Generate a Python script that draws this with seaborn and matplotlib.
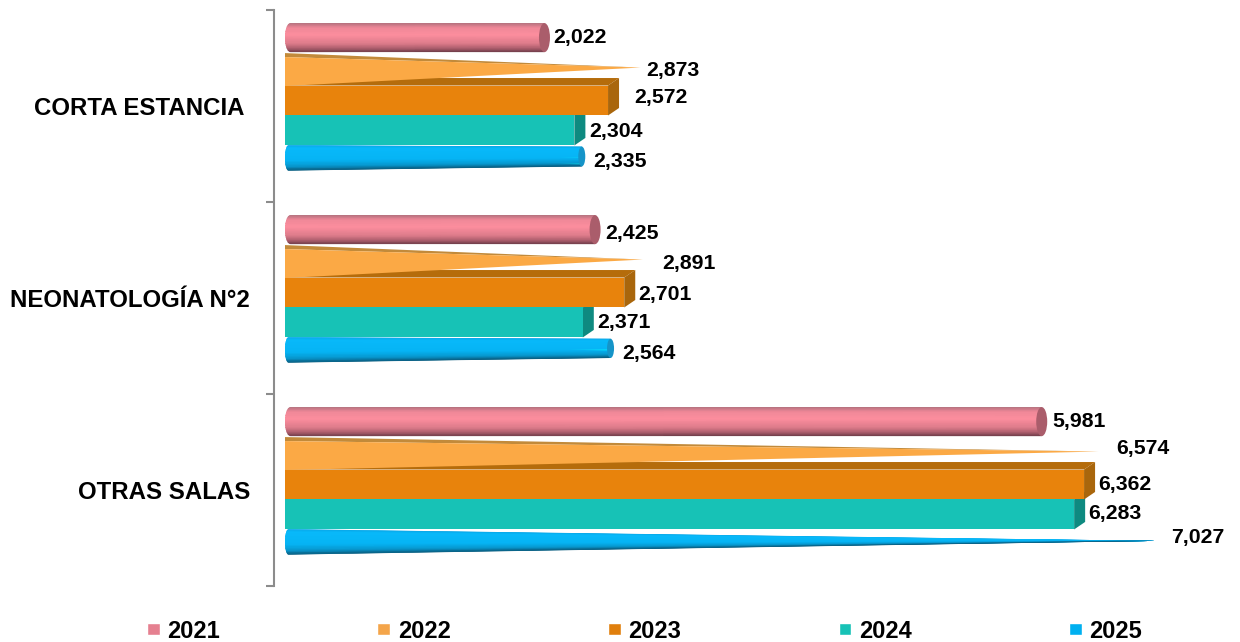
import numpy as np
import pandas as pd
import matplotlib
matplotlib.use("Agg")
import matplotlib.pyplot as plt
import seaborn as sns
from matplotlib.collections import QuadMesh
from matplotlib.colors import LinearSegmentedColormap
from matplotlib.patches import Ellipse, Polygon

salas = ["CORTA ESTANCIA ", "NEONATOLOGÍA N°2", "OTRAS SALAS"]
years = ["2021", "2022", "2023", "2024", "2025"]
v2021 = [2022, 2425, 5981]
v2022 = [2873, 2891, 6574]
v2023 = [2572, 2701, 6362]
v2024 = [2304, 2371, 6283]
v2025 = [2335, 2564, 7027]
colors = ["#e58090", "#f4a54a", "#e07f0d", "#17c2b6", "#00b0f0"]

# label nudges in pixels (right, down), per year then per sala
label_dx = [[14, 16, 16], [0, 14, 6], [26, 14, 14], [15, 14, 14], [15, 15, 4]]
label_dy = [[-2, 2, -2], [1, 2, -5], [-2, 3, 1], [2, 1, 0], [2, 2, -6]]
# the 3d shapes do not sit evenly in the slots, pixels down per year
bar_dy = [-2, 1.5, 1, 1, -1.5]

df = pd.DataFrame({
    "sala": salas * 5,
    "year": np.repeat(years, 3),
    "value": v2021 + v2022 + v2023 + v2024 + v2025,
})

sns.set_theme(style="white")
plt.rcParams["font.family"] = ["Liberation Sans", "DejaVu Sans"]
plt.rcParams["font.weight"] = "bold"
plt.rcParams["text.color"] = "black"

PX_PER_UNIT = 0.1256
PX_PER_CAT = 192.0
W, H = 1240, 642

fig = plt.figure(figsize=(W / 100, H / 100), dpi=100)
ax = fig.add_axes([285 / W, (H - 586) / H, 945 / W, 576 / H])
sns.barplot(data=df, y="sala", x="value", hue="year", order=salas, hue_order=years,
            palette=colors, saturation=1, width=0.78, dodge=True, ax=ax)


def px_x(n):
    return n / PX_PER_UNIT


def px_y(n):
    return n / PX_PER_CAT


shift = px_y(-6.5)
top_cmaps = {
    "2021": LinearSegmentedColormap.from_list("c21", [(0, "#b06f7c"), (0.16, "#ef8898"), (0.42, "#fd8e9e"),
                                                      (0.72, "#dc7b8a"), (0.9, "#a65a69"), (1, "#6e3d49")]),
    "2025": LinearSegmentedColormap.from_list("c25", [(0, "#0aa6e6"), (0.12, "#08b9fa"), (0.6, "#06b4f4"),
                                                      (0.85, "#0796cc"), (1, "#0a5a7c")]),
}


def cylinder(y, h, v, year, z, end_color, rx_px=5.5, taper_to=None):
    rx = px_x(rx_px)
    end_h = h
    x_end = v + rx
    split = 0.5
    if taper_to is not None:
        end_h = h * max(1 - v / taper_to, 0) ** 0.6
        split = 0.25
        if end_h == 0:
            x_end = taper_to
            split = 0.46
    top_end = y - h / 2 + (h - end_h) * split
    bot_end = top_end + end_h
    t = np.linspace(0, 1, 18)
    X = np.column_stack([np.zeros_like(t), np.full_like(t, x_end)])
    Y = np.column_stack([y - h / 2 + t * h, top_end + t * (bot_end - top_end)])
    mesh = QuadMesh(np.stack([X, Y], axis=-1), shading="gouraud", cmap=top_cmaps[year], transform=ax.transData)
    mesh.set_array(np.column_stack([t, t]))
    mesh.set_clim(0, 1)
    mesh.set_zorder(z)
    ax.add_collection(mesh, autolim=False)
    # rounded left cap comes from the clip outline
    a = np.linspace(-np.pi / 2, np.pi / 2, 30)
    left = np.column_stack([rx - rx * np.cos(a), y + h / 2 * np.sin(a)])
    outline = np.vstack([left, [[x_end, bot_end], [x_end, top_end]]])
    clip = Polygon(outline, closed=True, transform=ax.transData, facecolor="none", edgecolor="none")
    ax.add_patch(clip)
    mesh.set_clip_path(clip)
    if end_h > 0:
        ax.add_patch(Ellipse((x_end, (top_end + bot_end) / 2), 2 * rx, end_h, facecolor=end_color,
                             edgecolor="none", zorder=z + 0.1))


def pyramid(y, h, v, color, top_color, z):
    tip = (v * 0.985, y - px_y(3.5))
    ax.add_patch(Polygon([(0, y - h / 2 - px_y(3)), tip, (0, y - h / 2 + px_y(1))], closed=True,
                         facecolor=top_color, edgecolor="none", zorder=z))
    ax.add_patch(Polygon([(0, y - h / 2 + px_y(1)), tip, (0, y + h / 2)], closed=True,
                         facecolor=color, edgecolor="none", zorder=z))


def box(y, h, v, color, top_color, side_color, z):
    dx, dy = px_x(11), px_y(7.5)
    y0, y1 = y - h / 2, y + h / 2
    ax.add_patch(Polygon([(0, y0), (dx, y0 - dy), (v + dx, y0 - dy), (v, y0)], closed=True,
                         facecolor=top_color, edgecolor="none", zorder=z))
    ax.add_patch(Polygon([(v, y0), (v + dx, y0 - dy), (v + dx, y1 - dy), (v, y1)], closed=True,
                         facecolor=side_color, edgecolor="none", zorder=z))
    ax.add_patch(Polygon([(0, y0), (v, y0), (v, y1), (0, y1)], closed=True,
                         facecolor=color, edgecolor="none", zorder=z))


max_2025 = max(v2025) * 0.985
for i, (year, cont) in enumerate(zip(years, ax.containers)):
    z = 10 - i
    for j, bar in enumerate(cont):
        v = bar.get_width()
        label_y = bar.get_y() + bar.get_height() / 2 + shift
        y = label_y + px_y(bar_dy[i])
        h = bar.get_height()
        bar.set_visible(False)
        if year == "2021":
            cylinder(y, h * 0.97, v, year, z, "#aa5d6b")
        elif year == "2022":
            pyramid(y, h, v, "#fba945", "#c28a3a", z)
        elif year == "2023":
            box(y, h, v, "#e8830c", "#b56c0b", "#a9660c", z)
        elif year == "2024":
            box(y, h, v, "#17c2b6", "#0e8a80", "#0e8a80", z)
        else:
            cylinder(y, h * 0.85, v, year, z, "#1594c8", rx_px=3.5, taper_to=max_2025)
        ax.annotate(f"{int(v):,}", xy=(v, label_y), xytext=(label_dx[i][j], -label_dy[i][j]),
                    textcoords="offset pixels", ha="left", va="center",
                    fontsize=15.3, fontweight="bold", color="black", zorder=20)

ax.set_xlim(0, 945 / PX_PER_UNIT)
ax.set_ylim(2.5, -0.5)
ax.set_xlabel("")
ax.set_ylabel("")
ax.set_xticks([])
sns.despine(ax=ax, left=False, bottom=True)
ax.spines["left"].set_position(("outward", 7.9))
ax.spines["left"].set_color("#8c8c8c")
ax.spines["left"].set_linewidth(1.5)
ax.set_yticks([0, 1, 2])
ax.set_yticklabels(salas, fontsize=17.3, fontweight="bold", color="black")
ax.set_yticks([-0.5, 0.5, 1.5, 2.5], minor=True)
ax.tick_params(axis="y", which="major", length=0, pad=17.3, left=True)
ax.tick_params(axis="y", which="minor", length=5.8, width=1.5, color="#8c8c8c", left=True)

sns.move_legend(ax, "center left", bbox_to_anchor=(147 / W, 1 - 631 / H),
                bbox_transform=fig.transFigure, ncol=5, frameon=False, title=None,
                fontsize=17, labelcolor="black", handlelength=0.54, handleheight=0.43, handletextpad=0.32,
                columnspacing=6.665, borderaxespad=0, borderpad=0)

fig.savefig("out.png", dpi=100)
